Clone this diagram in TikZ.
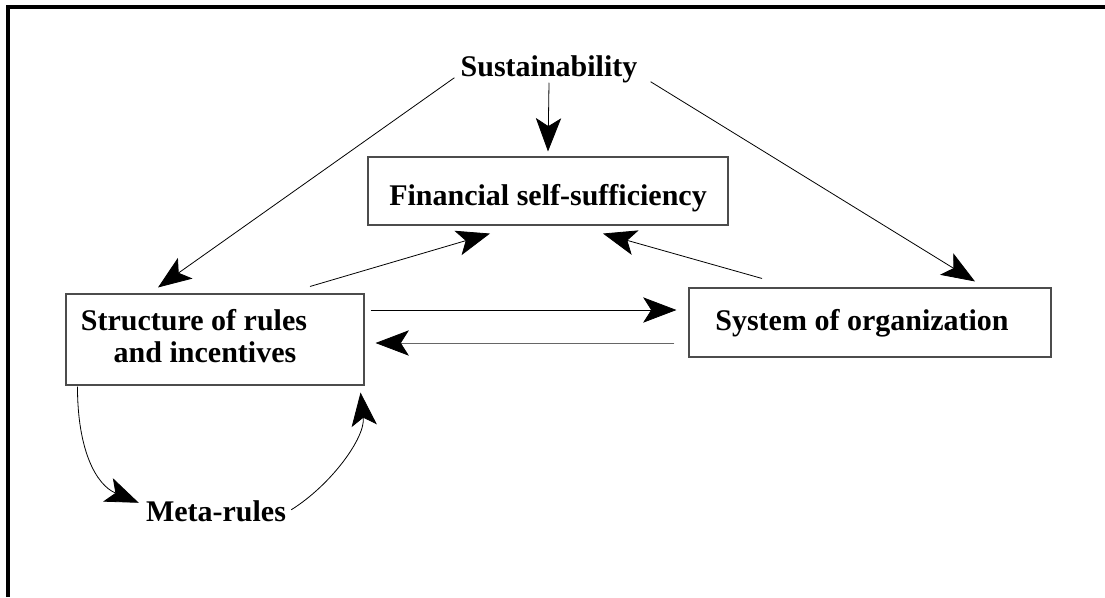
\documentclass[tikz,border=0pt]{standalone}
\usepackage{fontspec}
\setmainfont{Liberation Serif}
\usetikzlibrary{arrows.meta,calc}
\newcommand{\bigbf}{\fontsize{22.5}{25}\selectfont\bfseries}

\begin{document}
\begin{tikzpicture}[x=0.75pt,y=-0.75pt,
   box/.style={draw=black!70,line width=0.8pt,inner sep=0pt},
   lbl/.style={font=\bigbf,inner sep=0pt,anchor=base},
   arr/.style={line width=0.6pt,-{Stealth[length=25pt,width=19pt,inset=6pt,color=black]}}]
   \useasboundingbox (0,0) rectangle (1105,597);
   \draw[line width=3pt] (8,597) -- (8,7) -- (1105,7);
   % boxes
   \node[box,minimum width=270pt,minimum height=51pt] (fin) at (548,191) {};
   \node[box,minimum width=223.5pt,minimum height=68.25pt] (rules) at (215,339.5) {};
   \node[box,minimum width=271.5pt,minimum height=51.75pt] (sys) at (870,322.5) {};
   % texts
   \node[lbl] (sus) at (549,76) {Sustainability};
   \node[lbl] (fintext) at (548,205) {Financial self-sufficiency};
   \node[lbl] (rulestexta) at (194,330) {Structure of rules};
   \node[lbl] (rulestextb) at (205,362) {and incentives};
   \node[lbl] (systext) at (862,330) {System of organization};
   \node[lbl] (meta) at (216,521) {Meta-rules};
   % arrows
   \draw[arr] (sus.south) -- ($(fin.north)+(0,-5)$);
   \draw[arr] ($(sus.south west)+(-6,-5)$) -- ($(rules.north)+(-57,-6)$);
   \draw[arr] ($(sus.south east)+(13,-1)$) -- ($(sys.north)+(105,-6)$);
   \draw[arr] ($(rules.north)+(95,-7)$) -- ($(fin.south)+(-58,8)$);
   \draw[arr] ($(sys.north)+(-108,-9)$) -- ($(fin.south)+(55,8)$);
   \draw[arr] ($(rules.east)+(6,-29.5)$) -- ($(sys.west)+(-12,-12.5)$);
   \draw[arr,draw=black!60] ($(sys.west)+(-14,20.5)$) -- ($(rules.east)+(11,3.5)$);
   \draw[arr] ($(rules.south west)+(12,1)$) .. controls +(0,63) and +(-43,-18) .. ($(meta.west)+(-7,-8)$);
   \draw[arr] ($(meta.east)+(5,-1)$) .. controls +(40,-25) and +(5,45) .. ($(rules.south east)+(-4,7)$);
\end{tikzpicture}
\end{document}
